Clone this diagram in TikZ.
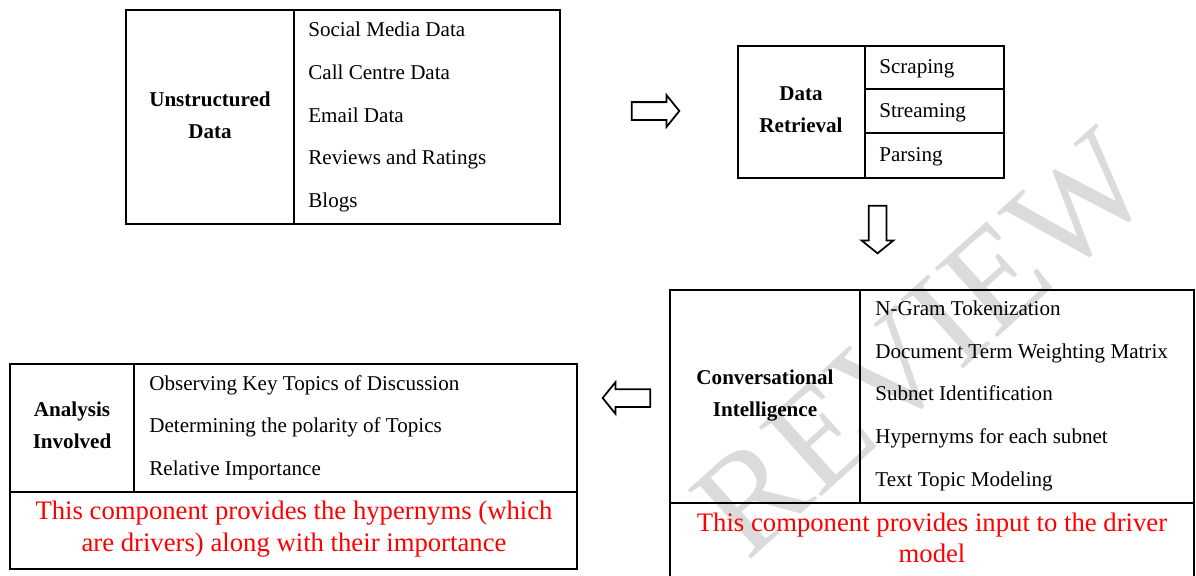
\documentclass[tikz,border=0pt]{standalone}
\usepackage{fontspec}
\setmainfont{Liberation Serif}
\usetikzlibrary{shapes.arrows,positioning,calc}

\tikzset{
  frame/.style={draw, line width=1.1pt, inner sep=0pt},
  rule/.style={line width=1.1pt},
  item/.style={anchor=west, inner sep=0pt, text height=8.3pt, text depth=0pt,
    font=\fontsize{12}{14}\selectfont},
  head/.style={align=center, inner sep=0pt, font=\fontsize{12}{18.2}\selectfont\bfseries},
  note/.style={align=center, inner sep=0pt, text=red, font=\fontsize{15.2}{18}\selectfont},
  blockarrow/.style={single arrow, draw, line width=1pt, fill=white,
    inner xsep=0pt, inner ysep=0.16cm, minimum width=0pt,
    single arrow head extend=0.14cm, single arrow tip angle=102,
    minimum height=0.95cm},
}

\begin{document}
\begin{tikzpicture}[x=0.02cm, y=-0.02cm]
  \useasboundingbox (0,0) rectangle (1196,575);

  % watermark
  \node[text=black!14, rotate=42, inner sep=0pt,
    font=\fontsize{81}{81}\selectfont] (stamp) at (923,344) {REVIEW};

  % unstructured data
  \node[frame, minimum width=8.68cm, minimum height=4.28cm] (unstr) at (343,117) {};
  \draw[rule] (294,10) -- (294,224);
  \node[head] (unstrhead) at (210,115) {Unstructured\\Data};
  \node[item] (social) at (308,29) {Social Media Data};
  \node[item] (call) at (308,72) {Call Centre Data};
  \node[item] (email) at (308,115) {Email Data};
  \node[item] (reviews) at (308,157) {Reviews and Ratings};
  \node[item] (blogs) at (308,200) {Blogs};

  % data retrieval
  \node[frame, minimum width=5.32cm, minimum height=2.64cm] (retr) at (871,112) {};
  \draw[rule] (865,46) -- (865,178);
  \draw[rule] (865,89) -- (1004,89);
  \draw[rule] (865,133) -- (1004,133);
  \node[head] (retrhead) at (801,110) {Data\\Retrieval};
  \node[item] (scraping) at (879,66) {Scraping};
  \node[item] (streaming) at (879,110) {Streaming};
  \node[item] (parsing) at (879,154) {Parsing};

  % conversational intelligence
  \node[frame, minimum width=10.48cm, minimum height=5.8cm] (conv) at (932,435) {};
  \draw[rule] (860,290) -- (860,503);
  \draw[rule] (670,503) -- (1194,503);
  \node[head] (convhead) at (765,395.5) {Conversational\\Intelligence};
  \node[item] (ngram) at (875,308) {N-Gram Tokenization};
  \node[item] (dtm) at (875,351) {Document Term Weighting Matrix};
  \node[item] (subnet) at (875,393) {Subnet Identification};
  \node[item] (hyper) at (875,436) {Hypernyms for each subnet};
  \node[item] (topic) at (875,479) {Text Topic Modeling};
  \node[note] (convnote) at (932,538) {This component provides input to the driver\\model};

  % analysis involved
  \node[frame, minimum width=11.34cm, minimum height=4.1cm] (anal) at (293.5,466.5) {};
  \draw[rule] (134,364) -- (134,492);
  \draw[rule] (10,492) -- (577,492);
  \node[head] (analhead) at (72,425) {Analysis\\Involved};
  \node[item] (keytopics) at (149,383) {Observing Key Topics of Discussion};
  \node[item] (polarity) at (149,425) {Determining the polarity of Topics};
  \node[item] (importance) at (149,468) {Relative Importance};
  \node[note] (analnote) at (294,529) {This component provides the hypernyms (which\\are drivers) along with their importance};

  % flow arrows
  \node[blockarrow] (toretr) at (652,111) {};
  \node[blockarrow, rotate=-90] (toconv) at (877.5,226) {};
  \node[blockarrow, rotate=180] (toanal) at (630,398) {};
\end{tikzpicture}
\end{document}
